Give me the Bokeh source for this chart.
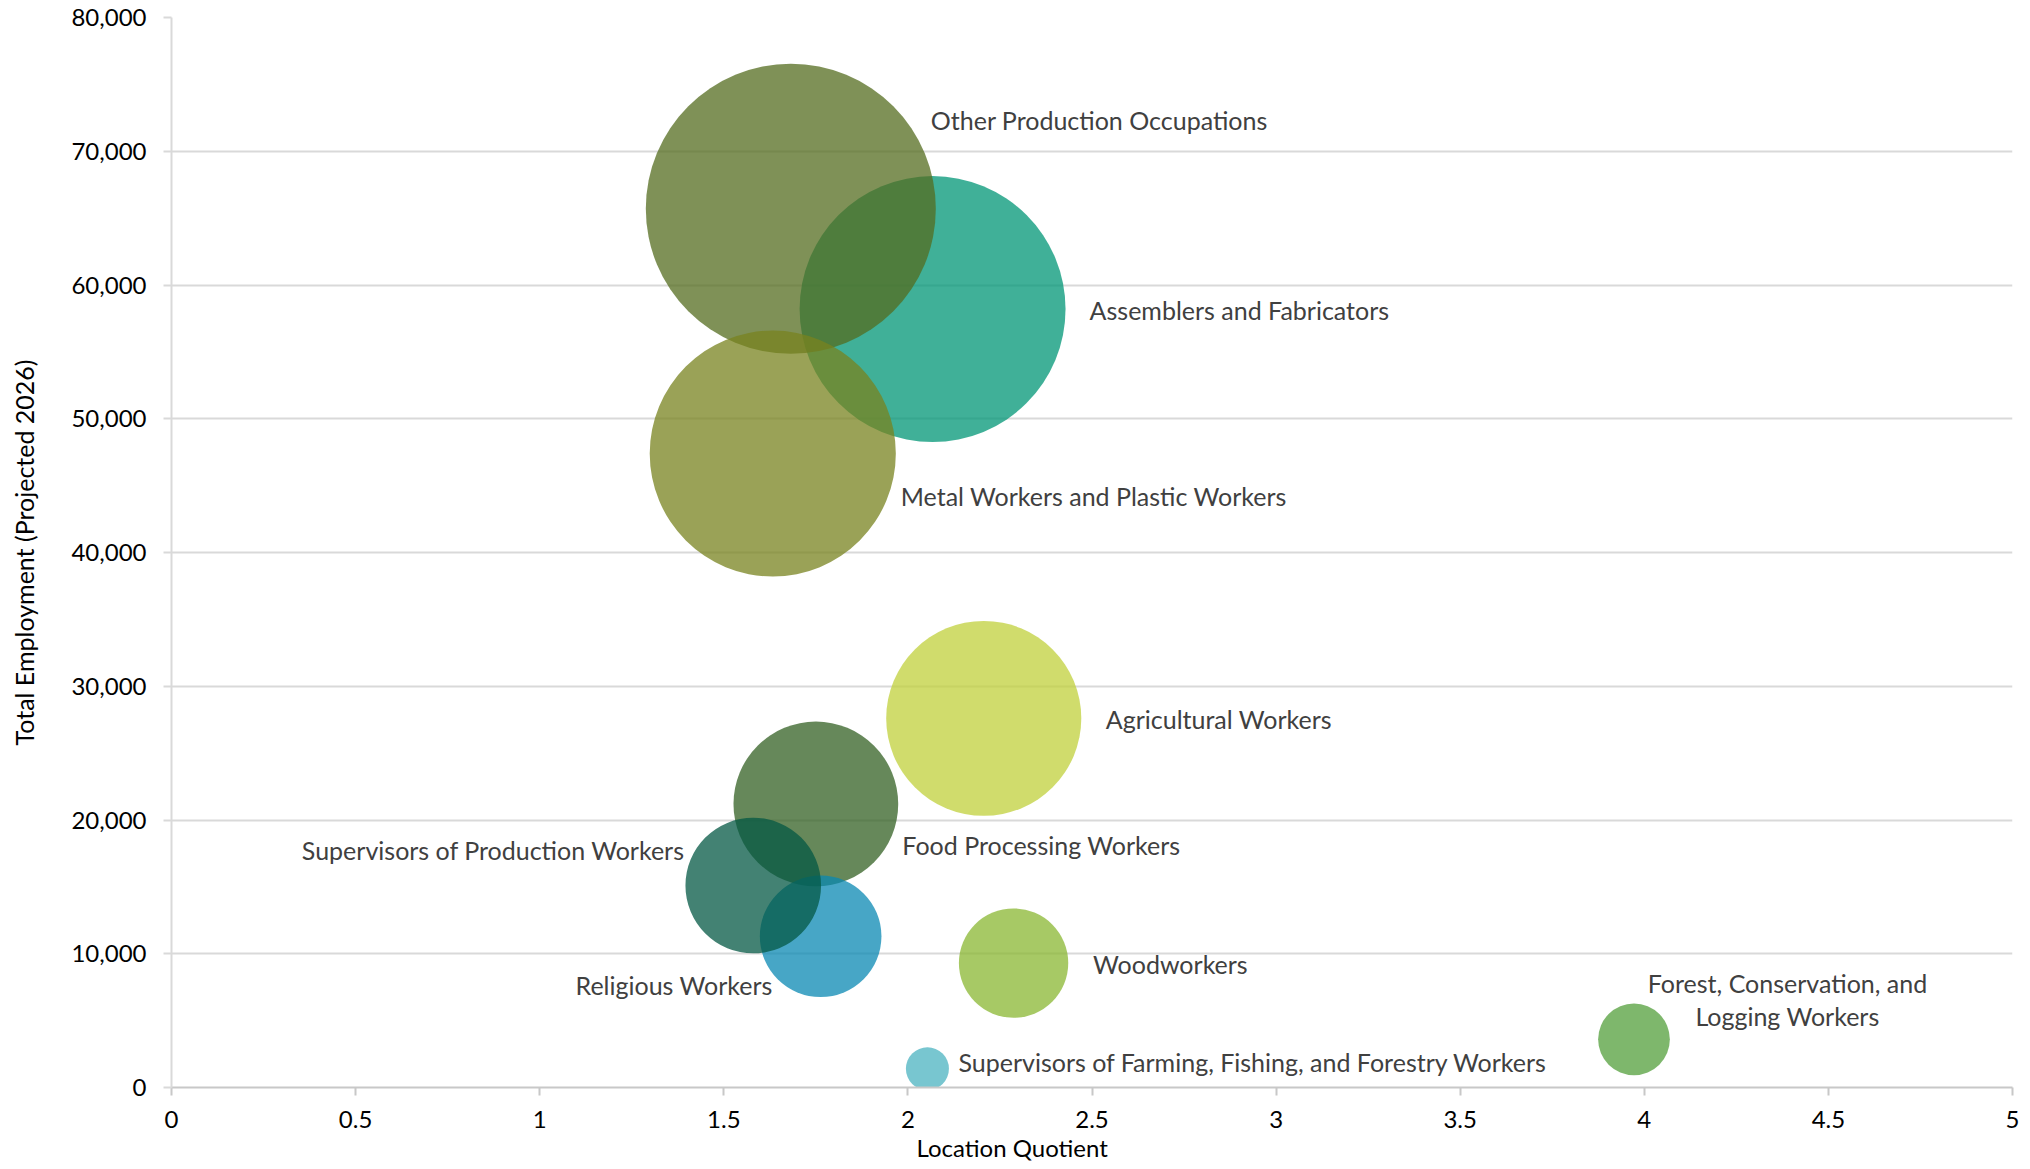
import numpy as np
from bokeh.plotting import figure
from bokeh.models import (ColumnDataSource, Range1d, SingleIntervalTicker,
                          NumeralTickFormatter, Title, CDSView, IndexFilter)
from bokeh.core.properties import value
from bokeh.embed import file_html
from bokeh.resources import INLINE

# ---------------- data ----------------
occupations = [
    "Assemblers and Fabricators",
    "Other Production Occupations",
    "Metal Workers and Plastic Workers",
    "Agricultural Workers",
    "Food Processing Workers",
    "Religious Workers",
    "Supervisors of Production Workers",
    "Woodworkers",
    "Forest, Conservation, and\nLogging Workers",
    "Supervisors of Farming, Fishing, and Forestry Workers",
]
location_quotient = [2.067, 1.682, 1.633, 2.206, 1.750, 1.763, 1.580, 2.287, 3.972, 2.053]
employment_2026 = [58200, 65700, 47400, 27600, 21200, 11300, 15100, 9300, 3600, 1400]
bubble_size = [55000, 65400, 47100, 29600, 21100, 11500, 14300, 9300, 4000, 1440]
bubble_colors = ["#009676", "#546C1F", "#78831F", "#C0D03B", "#336023",
                 "#0A88B3", "#045844", "#8AB732", "#539F3B", "#4BB3C0"]

# ---------------- label placement (styling) ----------------
label_align = ["left", "left", "left", "left", "left", "right", "right", "left", "center", "left"]
label_dx = [157, 140, 128, 122, 86.5, -48, -68.5, 79.5, 153.5, 31]
label_dy = [1, -88.5, 42, 1, 41.5, 48.5, -35.5, 0.5, -39.7, -6.5]

FONT = "Lato"
FS = "24px"
LFS = "25px"

p = figure(width=2022, height=1161, output_backend="svg", toolbar_location=None,
           x_range=Range1d(0, 5), y_range=Range1d(0, 80000),
           min_border_left=171, min_border_right=10, min_border_top=17,
           min_border_bottom=74)
p.outline_line_color = None
p.background_fill_color = "white"
p.border_fill_color = "white"

diam = 2 * 0.567 * np.sqrt(np.array(bubble_size, dtype=float))
src = ColumnDataSource(dict(x=location_quotient, y=employment_2026, d=diam,
                            c=bubble_colors, name=occupations,
                            dx=label_dx, dy=label_dy))
p.scatter("x", "y", size="d", fill_color="c", fill_alpha=0.75,
          line_color=None, source=src)

for align in ("left", "right", "center"):
    idx = [i for i, a in enumerate(label_align) if a == align]
    view = CDSView(filter=IndexFilter(idx))
    p.text("x", "y", text="name", x_offset="dx", y_offset="dy", source=src,
           view=view, text_align=align, text_baseline="middle",
           text_font=value(FONT), text_font_size=LFS, text_color="#404040",
           text_line_height=1.08)

# ---------------- axes ----------------
p.xaxis.ticker = SingleIntervalTicker(interval=0.5)
p.xaxis.formatter = NumeralTickFormatter(format="0.[0]")
p.yaxis.ticker = SingleIntervalTicker(interval=10000)
p.yaxis.formatter = NumeralTickFormatter(format="0,0")
for ax in (p.xaxis[0], p.yaxis[0]):
    ax.axis_line_color = "#D9D9D9"
    ax.axis_line_width = 2
    ax.major_tick_line_color = "#D9D9D9"
    ax.major_tick_line_width = 2
    ax.major_tick_out = 8
    ax.major_tick_in = 0
    ax.minor_tick_line_color = None
    ax.major_label_text_font = FONT
    ax.major_label_text_font_size = FS
    ax.major_label_text_color = "#000000"
p.xaxis.axis_line_color = "#C8C8C8"
p.xaxis.major_tick_line_color = "#C8C8C8"
p.yaxis.major_label_standoff = 17
p.xaxis.major_label_standoff = 15

p.yaxis.axis_label = "Total Employment (Projected 2026)"
p.yaxis.axis_label_text_font = FONT
p.yaxis.axis_label_text_font_size = "25px"
p.yaxis.axis_label_text_font_style = "normal"
p.yaxis.axis_label_text_color = "#000000"
p.yaxis.axis_label_standoff = 29

p.xgrid.visible = False
p.ygrid.grid_line_color = "#D9D9D9"
p.ygrid.grid_line_width = 2

p.add_layout(Title(text="Location Quotient", align="left", offset=745,
                   text_font=FONT, text_font_size="24px", text_font_style="normal",
                   text_color="#000000", standoff=0), "below")

open("out.html", "w").write(file_html(p, INLINE))
